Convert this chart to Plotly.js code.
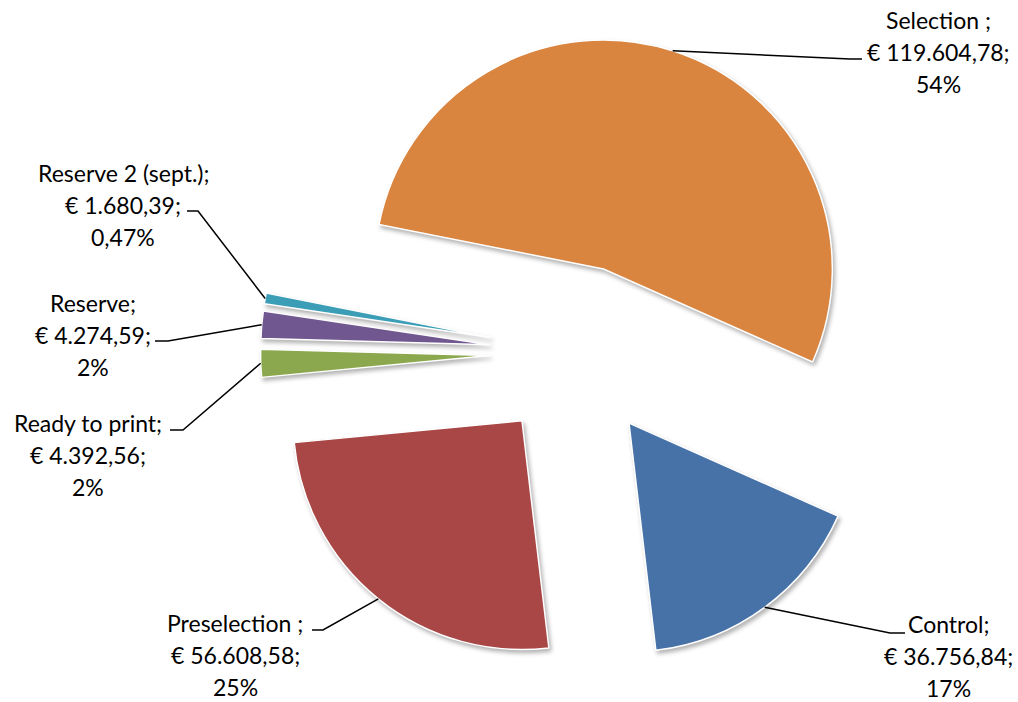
<!DOCTYPE html>
<html>
<head>
<meta charset="utf-8">
<script src="https://cdn.plot.ly/plotly-3.0.1.min.js"></script>
<style>
  html, body { margin: 0; padding: 0; background: #ffffff; }
  #chart { width: 1018px; height: 702px; }
  .slice path.surface { filter: drop-shadow(2px 3px 2px rgba(0,0,0,0.30)); }
</style>
</head>
<body>
<div id="chart"></div>
<script>
// ---- data ----
const categories = ['Control;', 'Preselection ;', 'Ready to print;', 'Reserve;', 'Reserve 2 (sept.);', 'Selection ;'];
const amounts = [36756.84, 56608.58, 4392.56, 4274.59, 1680.39, 119604.78];
const percentLabels = ['17%', '25%', '2%', '2%', '0,47%', '54%'];

// ---- styles / layout ----
const sliceColors = ['#4672A8', '#A84745', '#8BA84E', '#71578F', '#3C9DB6', '#D9843F'];
const W = 1018, H = 702;
const M = {l: 0, r: 0, t: 36, b: 33};
const PULL = 0.383;
// label placement (pixels): center x, first line center y, stub [xText, xBend, y]
const labelPos = [
  {x: 948, y: 624, stub: [905, 890, 633]},
  {x: 235, y: 623, stub: [312, 323, 630]},
  {x: 88,  y: 423, stub: [170, 183, 430]},
  {x: 93,  y: 303, stub: [155, 168, 341]},
  {x: 123, y: 173, stub: [187, 198, 211]},
  {x: 938, y: 20,  stub: [862, 850, 59]}
];
const LINE_GAP = 32;
const FONT = {family: 'Lato, "Open Sans", sans-serif', size: 23, color: '#000000'};

function fmtEuro(v) {
  const parts = v.toFixed(2).split('.');
  return '€ ' + parts[0].replace(/\B(?=(\d{3})+(?!\d))/g, '.') + ',' + parts[1] + ';';
}
const plotW = W - M.l - M.r, plotH = H - M.t - M.b;
const px2x = x => (x - M.l) / plotW;
const px2y = y => 1 - (y - M.t) / plotH;

const trace = {
  type: 'pie',
  labels: categories,
  values: amounts,
  sort: false,
  direction: 'clockwise',
  rotation: 114,
  pull: amounts.map(() => PULL),
  marker: {colors: sliceColors, line: {color: '#ffffff', width: 1.5}},
  textinfo: 'none',
  hoverinfo: 'skip',
  showlegend: false,
  domain: {x: [px2x(577) - 0.35, px2x(577) + 0.35], y: [0, 1]}
};

const annotations = [];
categories.forEach((c, i) => {
  const lines = [c, fmtEuro(amounts[i]), percentLabels[i]];
  lines.forEach((t, k) => {
    annotations.push({
      xref: 'paper', yref: 'paper', x: px2x(labelPos[i].x), y: px2y(labelPos[i].y + k * LINE_GAP),
      xanchor: 'center', yanchor: 'middle', text: t, showarrow: false, font: FONT
    });
  });
});

const layout = {
  width: W, height: H,
  margin: M,
  paper_bgcolor: '#ffffff',
  plot_bgcolor: '#ffffff',
  showlegend: false,
  annotations: annotations
};

const gd = document.getElementById('chart');
Plotly.newPlot(gd, [trace], layout, {staticPlot: true}).then(() => {
  const cd = gd.calcdata[0];
  const cd0 = cd[0];
  const shapes = cd.map((pt, i) => {
    const f = 1 + trace.pull[pt.i !== undefined ? pt.i : i];
    const sx = cd0.cx + f * pt.pxmid[0];
    const sy = cd0.cy + f * pt.pxmid[1];
    const s = labelPos[i].stub;
    return {
      type: 'path', xref: 'paper', yref: 'paper',
      path: 'M ' + px2x(s[0]) + ' ' + px2y(s[2]) + ' L ' + px2x(s[1]) + ' ' + px2y(s[2]) + ' L ' + px2x(sx) + ' ' + px2y(sy),
      line: {color: '#000000', width: 1.5}
    };
  });
  return Plotly.relayout(gd, {shapes: shapes});
});
</script>
</body>
</html>
